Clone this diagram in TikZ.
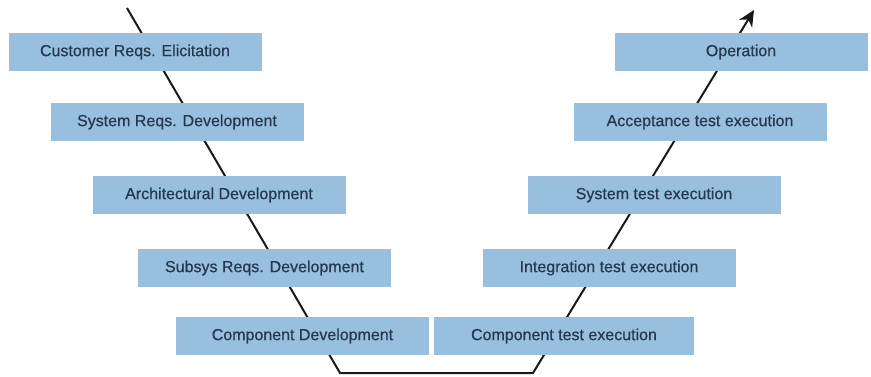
\documentclass[tikz,border=0pt]{standalone}
\usepackage{fontspec}
\setmainfont{Liberation Sans}
\newfontfamily\phasefont[FakeBold=0.6]{Liberation Sans}
\usetikzlibrary{arrows.meta}
\definecolor{boxblue}{RGB}{152,192,222}
\definecolor{boxtext}{RGB}{38,56,80}
\tikzset{
    phase/.style={fill=boxblue, text=boxtext, minimum width=253pt, minimum height=38pt,
        inner sep=0pt, font=\phasefont\fontsize{16}{18}\selectfont},
}
\begin{document}
\begin{tikzpicture}[x=1pt, y=1pt]
    \useasboundingbox (0,0) rectangle (871,376);
    \coordinate (start) at (127,368);
    \coordinate (low1)  at (340,3);
    \coordinate (low2)  at (533,3);
    \coordinate (end)   at (754,366);
    \draw [line width=2pt, -{Stealth[length=16pt,width=15pt,inset=5pt]}, black!90]
        (start) -- (low1) -- (low2) -- (end);
    % left leg
    \node [phase] (cre) at (135,324)   {Customer Reqs. Elicitation};
    \node [phase] (srd) at (177,254)   {System Reqs. Development};
    \node [phase] (ard) at (219,181)   {Architectural Development};
    \node [phase] (ssd) at (264.5,108) {Subsys Reqs. Development};
    \node [phase] (cd)  at (302.5,40)  {Component Development};
    % right leg
    \node [phase, minimum width=260pt] (cte) at (564,40) {Component test execution};
    \node [phase] (ite) at (609,108)   {Integration test execution};
    \node [phase] (ste) at (654,181)   {System test execution};
    \node [phase] (ate) at (700,254)   {Acceptance test execution};
    \node [phase] (op)  at (741,324)   {Operation};
\end{tikzpicture}
\end{document}
